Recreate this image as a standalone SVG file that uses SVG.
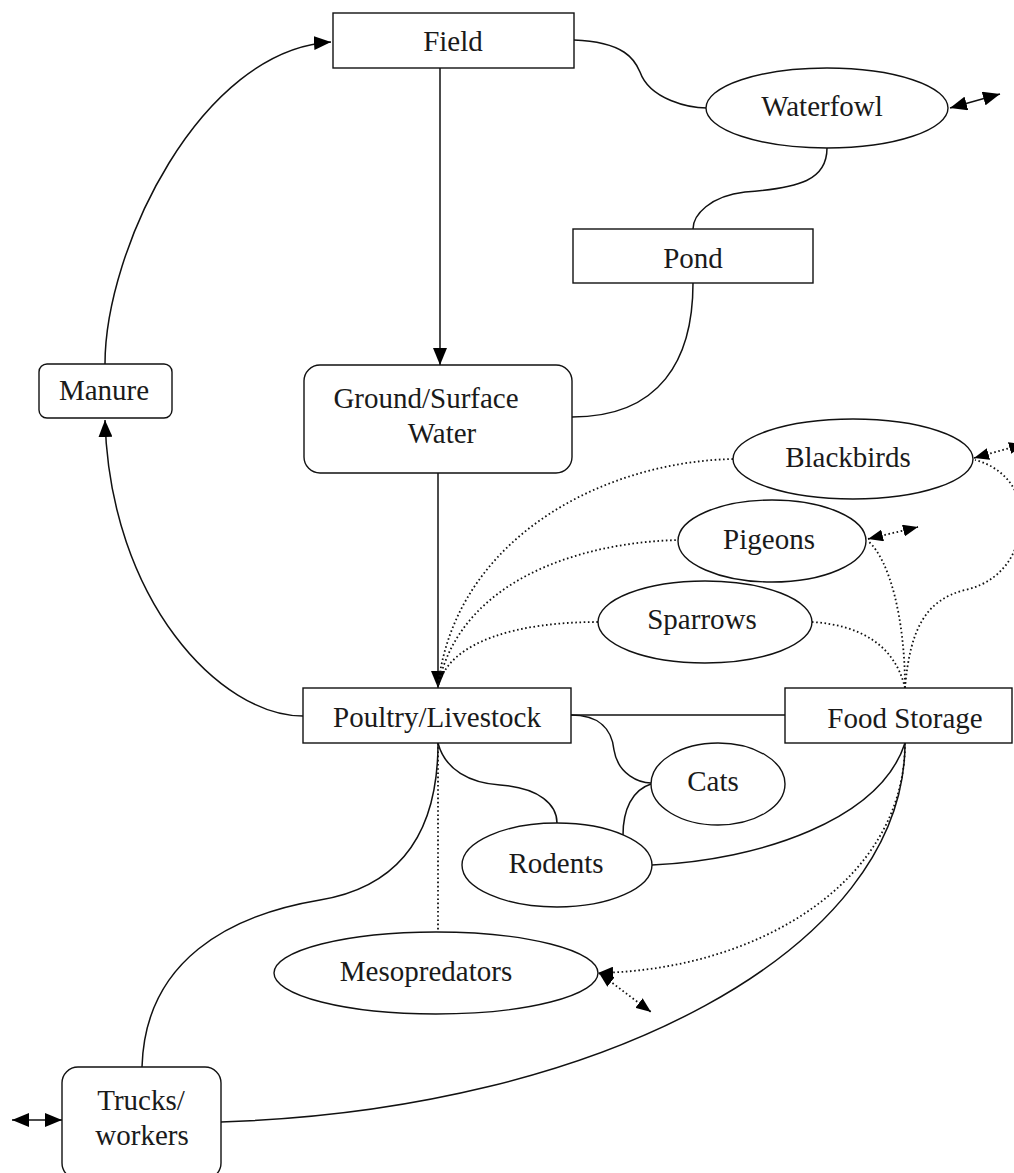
<svg xmlns="http://www.w3.org/2000/svg" width="1014" height="1173" viewBox="0 0 1014 1173">
<style>
.node{fill:#fff;stroke:#111;stroke-width:1.4}
.c{fill:none;stroke:#111;stroke-width:1.5}
.d{fill:none;stroke:#111;stroke-width:1.8;stroke-dasharray:1.6 2.6}
text{font-family:"Liberation Serif","Times New Roman",serif;font-size:29px;fill:#1a1a1a;text-anchor:middle}
</style>
<defs>
<marker id="ah" viewBox="0 0 17 14" refX="17" refY="7" markerWidth="17" markerHeight="14" markerUnits="userSpaceOnUse" orient="auto-start-reverse">
<path d="M0,0 L17,7 L0,14 z" fill="#000"/>
</marker>
<marker id="as" viewBox="0 0 15 12" refX="15" refY="6" markerWidth="15" markerHeight="12" markerUnits="userSpaceOnUse" orient="auto-start-reverse">
<path d="M0,0 L15,6 L0,12 z" fill="#000"/>
</marker>
</defs>
<rect width="1014" height="1173" fill="#fff"/>
<g id="connectors">
<path class="c" d="M105,364 C105,250 200,50 331,42" marker-end="url(#ah)"/>
<path class="c" d="M440,68 L440,365" marker-end="url(#ah)"/>
<path class="c" d="M574,40 C625,42 635,60 640,72 C650,100 690,108 707,108"/>
<path class="c" d="M827,148 C827,180 800,188 745,192 C710,196 693,215 693,229"/>
<path class="c" d="M693,283 C693,360 660,417 572,417"/>
<path class="c" d="M950,108 L1000,94" marker-start="url(#ah)" marker-end="url(#ah)"/>
<path class="c" d="M438,473 L438,688" marker-end="url(#ah)"/>
<path class="c" d="M303,716 C220,716 110,600 105,420" marker-end="url(#ah)"/>
<path class="d" d="M733,459 C600,462 455,540 438,686"/>
<path class="d" d="M680,540 C580,542 460,580 438,686"/>
<path class="d" d="M598,622 C520,622 450,640 438,686"/>
<path class="c" d="M571,715 L785,715"/>
<path class="c" d="M571,715 C600,715 612,730 614,750 C618,775 640,783 651,783"/>
<path class="c" d="M651,784 C632,790 623,810 623,835"/>
<path class="c" d="M438,743 C445,770 470,783 500,785 C540,788 557,805 557,823"/>
<path class="c" d="M438,743 C438,820 410,885 320,900 C230,915 145,960 142,1067"/>
<path class="d" d="M438,743 L438,932"/>
<path class="c" d="M652,865 C760,860 880,820 905,743"/>
<path class="d" d="M905,743 C905,880 760,970 598,973" marker-end="url(#as)"/>
<path class="c" d="M905,743 C905,950 600,1110 221,1122"/>
<path class="d" d="M905,688 C905,620 890,560 868,541"/>
<path class="d" d="M868,539 L918,527" marker-start="url(#as)" marker-end="url(#as)"/>
<path class="d" d="M905,688 C895,645 860,625 812,622"/>
<path class="d" d="M905,688 C910,630 925,600 965,590 C1010,580 1025,540 1020,505 C1015,480 995,465 975,460"/>
<path class="d" d="M974,458 L1024,444" marker-start="url(#as)" marker-end="url(#as)"/>
<path class="d" d="M599,973 L651,1012" marker-start="url(#as)" marker-end="url(#as)"/>
<path class="c" d="M12,1120 L62,1120" marker-start="url(#ah)" marker-end="url(#ah)"/>
</g>
<g id="field"><rect class="node" x="333" y="13" width="241" height="55"/><text x="453" y="51">Field</text></g>
<g id="waterfowl"><ellipse class="node" cx="827" cy="108" rx="121" ry="40"/><text x="822" y="116">Waterfowl</text></g>
<g id="pond"><rect class="node" x="573" y="229" width="240" height="54"/><text x="693" y="268">Pond</text></g>
<g id="manure"><rect class="node" x="39" y="364" width="133" height="54" rx="8"/><text x="104" y="400">Manure</text></g>
<g id="ground-surface-water"><rect class="node" x="304" y="365" width="268" height="108" rx="16"/><text x="426" y="408">Ground/Surface</text><text x="442" y="443">Water</text></g>
<g id="blackbirds"><ellipse class="node" cx="853" cy="459" rx="120" ry="40"/><text x="848" y="467">Blackbirds</text></g>
<g id="pigeons"><ellipse class="node" cx="772" cy="541" rx="94" ry="41"/><text x="769" y="549">Pigeons</text></g>
<g id="sparrows"><ellipse class="node" cx="705" cy="622" rx="107" ry="41"/><text x="702" y="629">Sparrows</text></g>
<g id="poultry-livestock"><rect class="node" x="303" y="688" width="268" height="55"/><text x="437" y="727">Poultry/Livestock</text></g>
<g id="food-storage"><rect class="node" x="785" y="688" width="227" height="55"/><text x="905" y="728">Food Storage</text></g>
<g id="cats"><ellipse class="node" cx="718" cy="784" rx="67" ry="41"/><text x="713" y="791">Cats</text></g>
<g id="rodents"><ellipse class="node" cx="557" cy="865" rx="95" ry="42"/><text x="556" y="873">Rodents</text></g>
<g id="mesopredators"><ellipse class="node" cx="436" cy="973" rx="162" ry="41"/><text x="426" y="981">Mesopredators</text></g>
<g id="trucks-workers"><rect class="node" x="62" y="1067" width="159" height="112" rx="16"/><text x="141" y="1110">Trucks/</text><text x="142" y="1145">workers</text></g>
</svg>
